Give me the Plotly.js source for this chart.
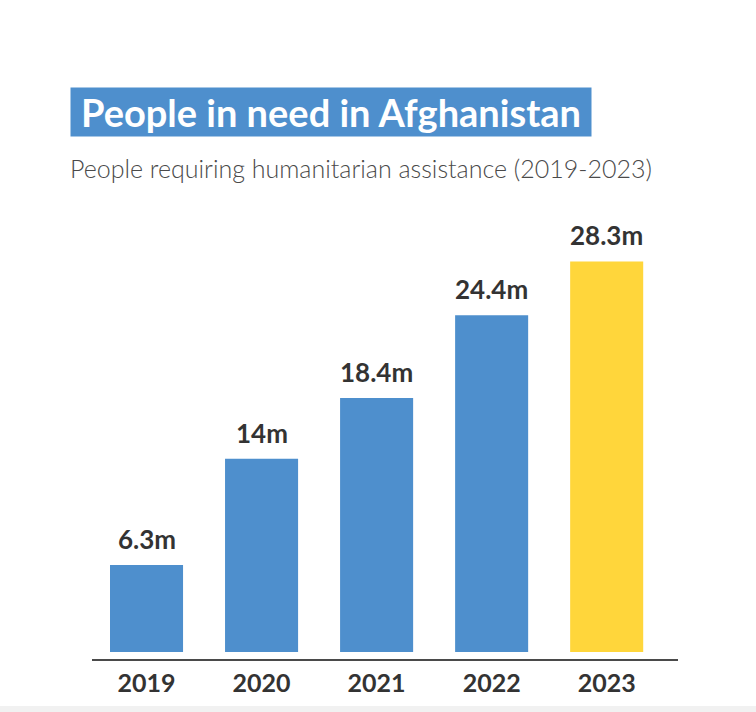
<!DOCTYPE html>
<html>
<head>
<meta charset="utf-8">
<script src="https://cdn.plot.ly/plotly-3.0.1.min.js"></script>
<style>
  html, body { margin: 0; padding: 0; background: #ffffff; }
  #chart { width: 756px; height: 712px; }
</style>
</head>
<body>
<div id="chart"></div>
<script>
// Data
const years = ['2019', '2020', '2021', '2022', '2023'];
const peopleInNeed = [6.3, 14, 18.4, 24.4, 28.3];
const valueLabels = ['6.3m', '14m', '18.4m', '24.4m', '28.3m'];
const barColors = ['#4e8fcd', '#4e8fcd', '#4e8fcd', '#4e8fcd', '#ffd63b'];

const titleText = 'People in need in Afghanistan';
const subtitleText = 'People requiring humanitarian assistance (2019-2023)';

const FONT = 'Lato, "Noto Sans", sans-serif';

const trace = {
  type: 'bar',
  x: years,
  y: peopleInNeed,
  marker: { color: barColors, line: { width: 0 } },
  hoverinfo: 'none',
  cliponaxis: false
};

// category axis: annotate by category index
const labelAnnotations = years.map((yr, i) => ({
  x: i,
  y: peopleInNeed[i],
  xref: 'x',
  yref: 'y',
  text: '<b>' + valueLabels[i] + '</b>',
  showarrow: false,
  xanchor: 'center',
  yanchor: 'bottom',
  yshift: 8,
  font: { family: FONT, size: 26, color: '#333333' }
}));

// paper coordinates helpers (plot area: x 92..678, y 200..659)
const px = v => (v - 92) / 586;
const py = v => (659 - v) / 459;

const layout = {
  width: 756,
  height: 712,
  margin: { l: 92, r: 78, t: 200, b: 53 },
  paper_bgcolor: '#ffffff',
  plot_bgcolor: '#ffffff',
  showlegend: false,
  bargap: 0.365,
  xaxis: {
    type: 'category',
    range: [-0.474, 4.62],
    showline: true,
    linecolor: '#4a4a4a',
    linewidth: 2,
    showgrid: false,
    zeroline: false,
    ticks: '',
    tickfont: { family: FONT, size: 25, color: '#333333', weight: 'bold' },
    ticklabelstandoff: 1,
    fixedrange: true
  },
  yaxis: {
    range: [-0.507, 32.75],
    visible: false,
    showgrid: false,
    zeroline: false,
    fixedrange: true
  },
  annotations: [
    {
      xref: 'paper', yref: 'paper',
      x: px(70), y: py(87),
      xanchor: 'left', yanchor: 'top',
      width: 520, height: 48,
      bgcolor: '#4e8fcd',
      borderpad: 0,
      align: 'center', valign: 'middle',
      showarrow: false,
      text: '<b>' + titleText + '</b>',
      font: { family: FONT, size: 38, color: '#ffffff' }
    },
    {
      xref: 'paper', yref: 'paper',
      x: px(68), y: py(168),
      xanchor: 'left', yanchor: 'middle',
      showarrow: false,
      text: subtitleText,
      font: { family: FONT, size: 25, color: '#4a4a4a', weight: 300 }
    }
  ].concat(labelAnnotations),
  shapes: [
    {
      type: 'rect', xref: 'paper', yref: 'paper',
      x0: px(0), x1: px(756), y0: py(712), y1: py(706),
      fillcolor: '#f1f1f1', line: { width: 0 }, layer: 'below'
    }
  ]
};

Plotly.newPlot('chart', [trace], layout, { displayModeBar: false, staticPlot: true });
</script>
</body>
</html>
